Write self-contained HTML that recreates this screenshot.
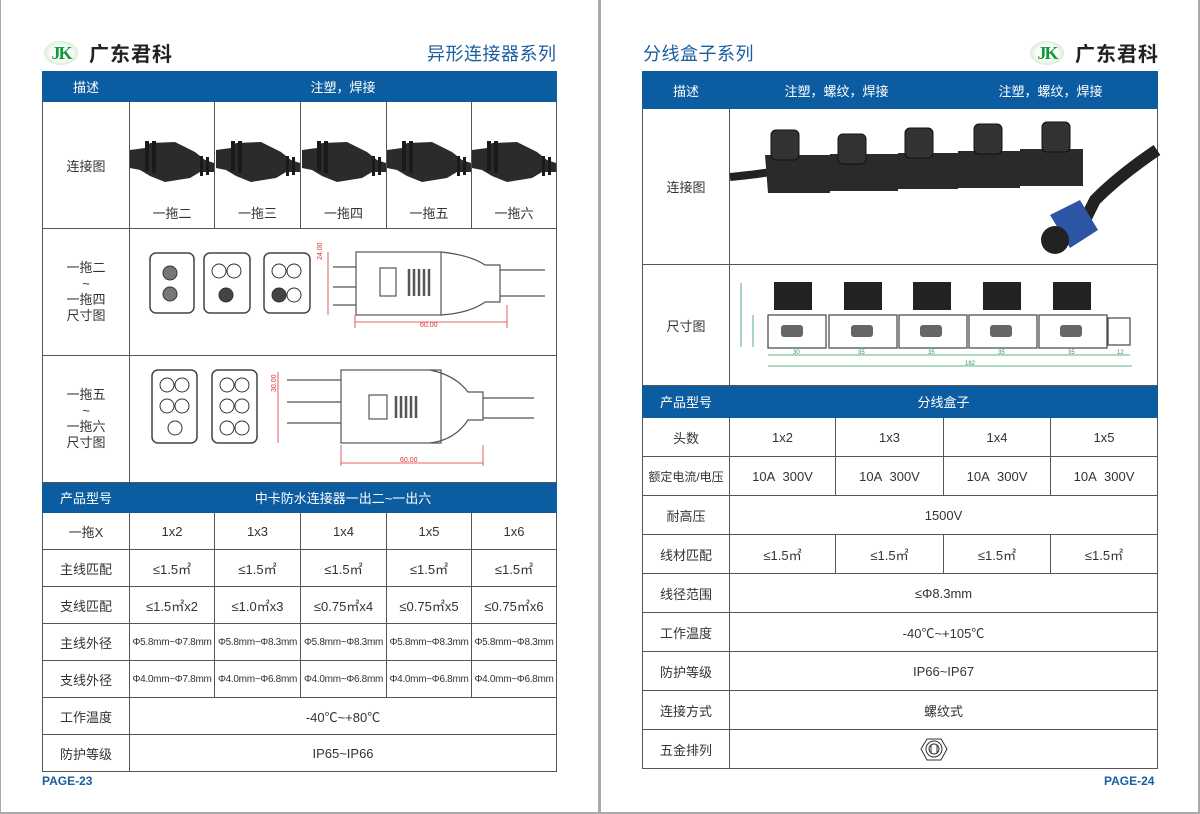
<!DOCTYPE html>
<html><head><meta charset="utf-8">
<style>
*{margin:0;padding:0;box-sizing:border-box}
body{width:1200px;height:814px;background:#fff;position:relative;overflow:hidden;font-family:"Liberation Sans","Noto Sans CJK SC",sans-serif;color:#333}
.frame{position:absolute;border:2px solid #aaa}
table{position:absolute;border-collapse:collapse;table-layout:fixed}
td{border:1.5px solid #555;text-align:center;vertical-align:middle;font-size:13px;color:#333;padding:0}
td.h{background:#0b5ca0;color:#fff;font-size:13px;border-color:#0b5ca0}
td.h.sep{border-left:1.5px solid #fff}
.small{font-size:10px;letter-spacing:-0.3px}
.logo{position:absolute;display:flex;align-items:center}
.oval{width:34px;height:24px;border-radius:50%;background:radial-gradient(ellipse at center,#fff 40%,#cfe8c8 80%,#a9d39d 100%);color:#109a3c;font-family:"Liberation Serif",serif;font-weight:bold;font-size:18px;text-align:center;line-height:24px;letter-spacing:-2px}
.lt{font-size:20px;font-weight:bold;color:#222;margin-left:11px;letter-spacing:1px}
.title{position:absolute;color:#1a5ea0;font-size:18px;letter-spacing:0.5px}
.page{position:absolute;color:#1a5ea0;font-weight:bold;font-size:12px}
svg{position:absolute}
</style></head><body>
<div class="frame" style="left:-1px;top:-2px;width:602px;height:816px"></div>
<div class="frame" style="left:598px;top:-2px;width:602px;height:816px"></div>

<div class="logo" style="left:44px;top:38px"><div class="oval">JK</div><div class="lt">广东君科</div></div>
<div class="title" style="left:427px;top:40px">异形连接器系列</div>
<div class="title" style="left:643px;top:40px">分线盒子系列</div>
<div class="logo" style="left:1030px;top:38px"><div class="oval">JK</div><div class="lt">广东君科</div></div>

<table style="left:42px;top:71px;width:514px">
<colgroup><col style="width:87px"><col style="width:85px"><col style="width:86px"><col style="width:86px"><col style="width:85px"><col style="width:85px"></colgroup>
<tr style="height:30px"><td class="h">描述</td><td class="h sep" colspan="5">注塑，焊接</td></tr>
<tr style="height:127px"><td>连接图</td>
<td style="vertical-align:bottom;padding-bottom:6px">一拖二</td><td style="vertical-align:bottom;padding-bottom:6px">一拖三</td><td style="vertical-align:bottom;padding-bottom:6px">一拖四</td><td style="vertical-align:bottom;padding-bottom:6px">一拖五</td><td style="vertical-align:bottom;padding-bottom:6px">一拖六</td></tr>
<tr style="height:127px"><td style="line-height:16px">一拖二<br>~<br>一拖四<br>尺寸图</td><td colspan="5"></td></tr>
<tr style="height:127px"><td style="line-height:16px">一拖五<br>~<br>一拖六<br>尺寸图</td><td colspan="5"></td></tr>
<tr style="height:30px"><td class="h">产品型号</td><td class="h sep" colspan="5">中卡防水连接器一出二~一出六</td></tr>
<tr style="height:37px"><td>一拖X</td><td>1x2</td><td>1x3</td><td>1x4</td><td>1x5</td><td>1x6</td></tr>
<tr style="height:37px"><td>主线匹配</td><td>≤1.5㎡</td><td>≤1.5㎡</td><td>≤1.5㎡</td><td>≤1.5㎡</td><td>≤1.5㎡</td></tr>
<tr style="height:37px"><td>支线匹配</td><td>≤1.5㎡x2</td><td>≤1.0㎡x3</td><td>≤0.75㎡x4</td><td>≤0.75㎡x5</td><td>≤0.75㎡x6</td></tr>
<tr style="height:37px"><td>主线外径</td><td class="small">Φ5.8mm~Φ7.8mm</td><td class="small">Φ5.8mm~Φ8.3mm</td><td class="small">Φ5.8mm~Φ8.3mm</td><td class="small">Φ5.8mm~Φ8.3mm</td><td class="small">Φ5.8mm~Φ8.3mm</td></tr>
<tr style="height:37px"><td>支线外径</td><td class="small">Φ4.0mm~Φ7.8mm</td><td class="small">Φ4.0mm~Φ6.8mm</td><td class="small">Φ4.0mm~Φ6.8mm</td><td class="small">Φ4.0mm~Φ6.8mm</td><td class="small">Φ4.0mm~Φ6.8mm</td></tr>
<tr style="height:37px"><td>工作温度</td><td colspan="5">-40℃~+80℃</td></tr>
<tr style="height:37px"><td>防护等级</td><td colspan="5">IP65~IP66</td></tr>
</table>
<div class="page" style="left:42px;top:774px">PAGE-23</div>

<table style="left:642px;top:71px;width:515px">
<colgroup><col style="width:87px"><col style="width:106px"><col style="width:108px"><col style="width:107px"><col style="width:107px"></colgroup>
<tr style="height:37px"><td class="h">描述</td><td class="h sep" colspan="2">注塑，螺纹，焊接</td><td class="h sep" colspan="2">注塑，螺纹，焊接</td></tr>
<tr style="height:156px"><td>连接图</td><td colspan="4"></td></tr>
<tr style="height:121px"><td>尺寸图</td><td colspan="4"></td></tr>
<tr style="height:32px"><td class="h">产品型号</td><td class="h sep" colspan="4">分线盒子</td></tr>
<tr style="height:39px"><td>头数</td><td>1x2</td><td>1x3</td><td>1x4</td><td>1x5</td></tr>
<tr style="height:39px"><td style="font-size:12px">额定电流/电压</td><td>10A&nbsp; 300V</td><td>10A&nbsp; 300V</td><td>10A&nbsp; 300V</td><td>10A&nbsp; 300V</td></tr>
<tr style="height:39px"><td>耐高压</td><td colspan="4">1500V</td></tr>
<tr style="height:39px"><td>线材匹配</td><td>≤1.5㎡</td><td>≤1.5㎡</td><td>≤1.5㎡</td><td>≤1.5㎡</td></tr>
<tr style="height:39px"><td>线径范围</td><td colspan="4">≤Φ8.3mm</td></tr>
<tr style="height:39px"><td>工作温度</td><td colspan="4">-40℃~+105℃</td></tr>
<tr style="height:39px"><td>防护等级</td><td colspan="4">IP66~IP67</td></tr>
<tr style="height:39px"><td>连接方式</td><td colspan="4">螺纹式</td></tr>
<tr style="height:39px"><td>五金排列</td><td colspan="4"></td></tr>
</table>
<div class="page" style="left:1104px;top:774px">PAGE-24</div>

<svg style="left:0;top:0" width="1200" height="814">
<g id="c1">
<path d="M130 150 L145 148 L150 143 L175 142 L195 152 L205 160 L214 163 L214 172 L200 172 L190 178 L165 182 L150 176 L140 170 L130 168Z" fill="#2b2b2b"/>
<rect x="145" y="141" width="4" height="30" fill="#1a1a1a"/><rect x="152" y="141" width="4" height="32" fill="#1a1a1a"/>
<rect x="200" y="156" width="3" height="20" fill="#1a1a1a"/><rect x="206" y="157" width="3" height="18" fill="#1a1a1a"/>
</g>
<use href="#c1" x="86"/><use href="#c1" x="172"/><use href="#c1" x="257"/><use href="#c1" x="342"/>
<g fill="#fff" stroke="#444" stroke-width="1.5">
<rect x="150" y="253" width="44" height="60" rx="6"/>
<rect x="204" y="253" width="46" height="60" rx="6"/>
<rect x="264" y="253" width="46" height="60" rx="6"/>
</g>
<g stroke="#333" fill="#fff" stroke-width="1">
<circle cx="170" cy="273" r="7" fill="#777"/><circle cx="170" cy="294" r="7" fill="#777"/>
<circle cx="219" cy="271" r="7"/><circle cx="234" cy="271" r="7"/><circle cx="226" cy="295" r="7" fill="#444"/>
<circle cx="279" cy="271" r="7"/><circle cx="294" cy="271" r="7"/><circle cx="279" cy="295" r="7" fill="#444"/><circle cx="294" cy="295" r="7"/>
</g>
<g fill="none" stroke="#555" stroke-width="1.2">
<path d="M333 267 H356 M333 287 H356 M333 305 H356"/>
<rect x="356" y="252" width="85" height="63"/>
<path d="M441 252 Q470 255 485 265 H500 V302 H485 Q470 313 441 315"/>
<path d="M500 270 H545 M500 296 H545"/>
<rect x="380" y="268" width="16" height="28"/>
<path d="M409 269 V296 M414 269 V296 M419 269 V296 M424 269 V296 M429 269 V296" stroke-width="2.5"/>
</g>
<g stroke="#d33" fill="none" stroke-width="0.8"><path d="M328 252 V315 M355 322 H507 M355 315 V328 M507 305 V328"/></g>
<text x="322" y="260" font-size="7" fill="#d33" transform="rotate(-90 322 260)" font-family="Liberation Sans">24.00</text>
<text x="420" y="327" font-size="7" fill="#d33" font-family="Liberation Sans">60.00</text>
<g fill="#fff" stroke="#444" stroke-width="1.5">
<rect x="152" y="370" width="45" height="73" rx="6"/>
<rect x="212" y="370" width="45" height="73" rx="6"/>
</g>
<g stroke="#333" fill="#fff" stroke-width="1">
<circle cx="167" cy="385" r="7"/><circle cx="182" cy="385" r="7"/><circle cx="167" cy="406" r="7"/><circle cx="182" cy="406" r="7"/><circle cx="175" cy="428" r="7"/>
<circle cx="227" cy="385" r="7"/><circle cx="242" cy="385" r="7"/><circle cx="227" cy="406" r="7"/><circle cx="242" cy="406" r="7"/><circle cx="227" cy="428" r="7"/><circle cx="242" cy="428" r="7"/>
</g>
<g fill="none" stroke="#555" stroke-width="1.2">
<path d="M287 380 H341 M287 402 H341 M287 423 H341"/>
<rect x="341" y="370" width="100" height="73"/>
<path d="M430 370 Q455 375 468 392 H483 V420 H468 Q455 440 430 443"/>
<path d="M483 398 H534 M483 418 H534"/>
<rect x="369" y="395" width="18" height="24"/>
<path d="M396 396 V418 M401 396 V418 M406 396 V418 M411 396 V418 M416 396 V418" stroke-width="2.5"/>
</g>
<g stroke="#d33" fill="none" stroke-width="0.8"><path d="M278 372 V443 M341 463 H483 M341 445 V466 M483 445 V466"/></g>
<text x="276" y="392" font-size="7" fill="#d33" transform="rotate(-90 276 392)" font-family="Liberation Sans">30.00</text>
<text x="400" y="462" font-size="7" fill="#d33" font-family="Liberation Sans">60.00</text>

<path d="M730 177 Q760 174 770 172" stroke="#222" stroke-width="8" fill="none"/>
<g fill="#2a2a2a">
<path d="M765 155 H830 V193 H768 Z"/><path d="M830 154 H898 V191 H830 Z"/><path d="M898 153 H958 V189 H898 Z"/><path d="M958 151 H1020 V188 H958 Z"/><path d="M1020 149 H1083 V186 H1020 Z"/>
</g>
<g fill="#333" stroke="#111">
<rect x="771" y="130" width="28" height="30" rx="5"/><rect x="838" y="134" width="28" height="30" rx="5"/><rect x="905" y="128" width="28" height="30" rx="5"/><rect x="974" y="124" width="28" height="30" rx="5"/><rect x="1042" y="122" width="28" height="30" rx="5"/>
</g>
<path d="M1157 150 Q1120 175 1095 200 L1080 230" stroke="#222" stroke-width="12" fill="none"/>
<path d="M1050 215 L1080 200 L1098 230 L1070 248Z" fill="#2d55a5"/>
<circle cx="1055" cy="240" r="14" fill="#222"/>
<g fill="#fff" stroke="#444" stroke-width="1.2">
<rect x="768" y="315" width="58" height="33"/><rect x="829" y="315" width="68" height="33"/><rect x="899" y="315" width="68" height="33"/><rect x="969" y="315" width="68" height="33"/><rect x="1039" y="315" width="68" height="33"/>
<rect x="1108" y="318" width="22" height="27"/>
</g>
<g fill="#222">
<rect x="774" y="282" width="38" height="28"/><rect x="844" y="282" width="38" height="28"/><rect x="913" y="282" width="38" height="28"/><rect x="983" y="282" width="38" height="28"/><rect x="1053" y="282" width="38" height="28"/>
</g>
<g fill="#666">
<rect x="781" y="325" width="22" height="12" rx="3"/><rect x="851" y="325" width="22" height="12" rx="3"/><rect x="920" y="325" width="22" height="12" rx="3"/><rect x="990" y="325" width="22" height="12" rx="3"/><rect x="1060" y="325" width="22" height="12" rx="3"/>
</g>
<g stroke="#2a9a5a" fill="none" stroke-width="0.8"><path d="M741 283 V347 M753 315 V347 M768 355 H1130 M768 366 H1132"/></g>
<g font-size="6" fill="#2a9a5a" font-family="Liberation Sans"><text x="793" y="354">30</text><text x="858" y="354">35</text><text x="928" y="354">35</text><text x="998" y="354">35</text><text x="1068" y="354">35</text><text x="1117" y="354">12</text><text x="965" y="365">182</text></g>
<g stroke="#333" fill="none" stroke-width="1"><polygon points="927,739 941,739 947,749 941,760 927,760 921,749"/><circle cx="934" cy="749" r="8"/><circle cx="934" cy="749" r="5"/><path d="M931 745 V753 M937 745 V753"/></g>
</svg>
</body></html>
